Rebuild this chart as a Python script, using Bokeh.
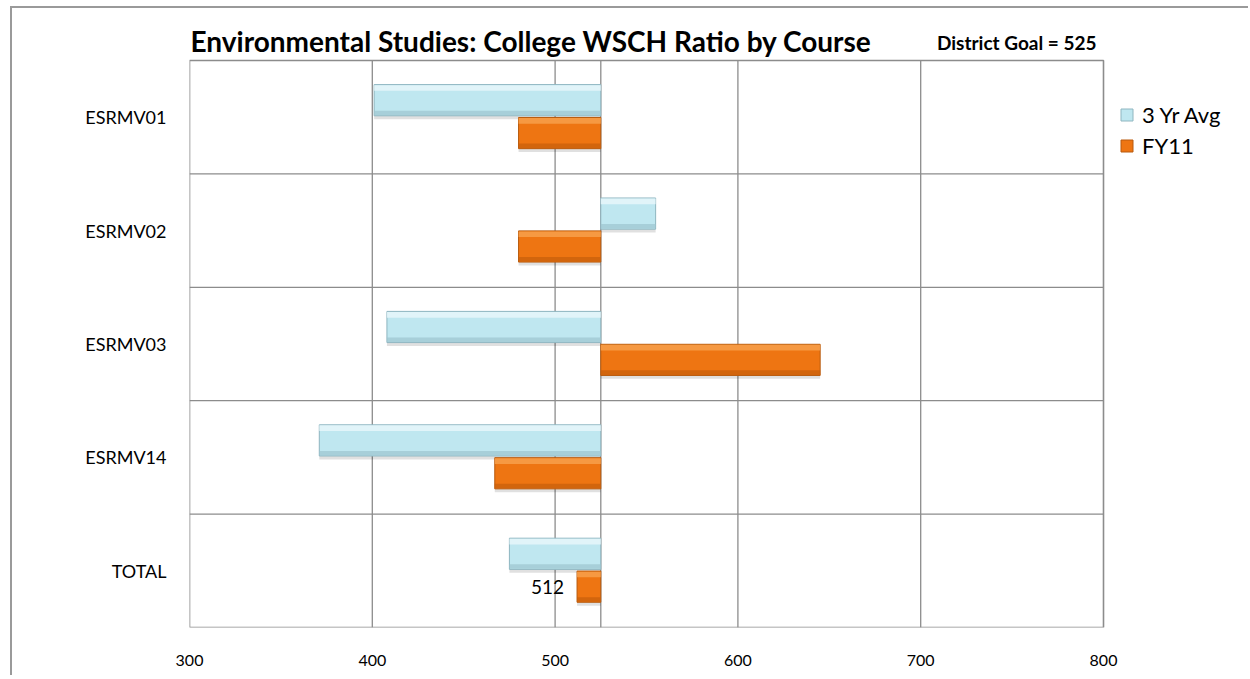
from bokeh.plotting import figure
from bokeh.models import (ColumnDataSource, Legend, LegendItem, FixedTicker,
                          Range1d, Label)
from bokeh.transform import dodge
from bokeh.core.properties import value
from bokeh.embed import file_html
from bokeh.resources import INLINE

# ---------------- data ----------------
courses = ["ESRMV01", "ESRMV02", "ESRMV03", "ESRMV14", "TOTAL"]
avg3yr = [401, 555, 408, 371, 475]
fy11 = [480, 480, 645, 467, 512]
GOAL = 525
x_ticks = [300, 400, 500, 600, 700, 800]
title_text = "Environmental Studies: College WSCH Ratio by Course"
goal_text = "District Goal = 525"
series_names = ["3 Yr Avg", "FY11"]

# ---------------- layout ----------------
FONT = "Lato"
GRID = "#8c8c8c"
W, HGT = 1248, 675
BORDER_L, BORDER_B = 189, 48
PLOT_TOP, PLOT_RIGHT = 60, 1103          # pixel edges of the plotting box
n = len(courses)
frame_h = HGT - BORDER_B
plot_h = frame_h - PLOT_TOP
ppu = plot_h / n                            # pixels per category
y_end = n * frame_h / plot_h
frame_w = W - BORDER_L
plot_w = PLOT_RIGHT - BORDER_L
x0, x1 = x_ticks[0], x_ticks[-1]
x_end = x0 + (x1 - x0) * frame_w / plot_w

ypos = [n - i - 0.5 for i in range(n)]
src = ColumnDataSource(dict(y=ypos, course=courses, avg=avg3yr, fy=fy11,
                            goal=[GOAL] * n))
total_src = ColumnDataSource(dict(y=[ypos[-1]], fy=[fy11[-1]],
                                  label=[str(fy11[-1])]))

p = figure(width=W, height=HGT, x_range=Range1d(x0, x_end),
           y_range=Range1d(0, y_end), output_backend="svg",
           toolbar_location=None, min_border_left=BORDER_L, min_border_top=0,
           min_border_right=0, min_border_bottom=BORDER_B)

p.background_fill_alpha = 0
p.border_fill_alpha = 0
p.outline_line_color = None
p.styles = {
    "background": "linear-gradient(#9a9a9a,#9a9a9a) 10px 6px / 2px 100% no-repeat, "
                  "linear-gradient(#9a9a9a,#9a9a9a) 10px 6px / 100% 2px no-repeat, white"
}
p.xgrid.grid_line_color = None
p.ygrid.grid_line_color = None

# plotting-box grid lines
inner_x = x_ticks[1:-1]
p.segment(x0=inner_x, y0=[0] * len(inner_x), x1=inner_x, y1=[n] * len(inner_x),
          line_color=GRID, line_width=1.3)
bounds = list(range(1, n))
p.segment(x0=[x0] * len(bounds), y0=bounds, x1=[x1] * len(bounds), y1=bounds,
          line_color=GRID, line_width=1.3)
p.segment(x0=[GOAL], y0=[0], x1=[GOAL], y1=[n], line_color=GRID, line_width=1.3)

H = 0.275
OFF_A = 0.15
OFF_F = -0.14


def bevel_bar(field, off, fill, line, light, dark):
    p.hbar(y=dodge("y", off - 0.03), left="goal", right=field, height=H,
           source=src, fill_color="#000000", fill_alpha=0.12, line_color=None)
    r = p.hbar(y=dodge("y", off), left="goal", right=field, height=H,
               source=src, fill_color=fill, line_color=line, line_width=1)
    p.hbar(y=dodge("y", off + H / 2 - 0.03), left="goal", right=field,
           height=0.05, source=src, fill_color=light, fill_alpha=0.8,
           line_color=None)
    p.hbar(y=dodge("y", off - H / 2 + 0.025), left="goal", right=field,
           height=0.04, source=src, fill_color=dark, fill_alpha=0.7,
           line_color=None)
    return r


r_avg = bevel_bar("avg", OFF_A, "#BFE7F0", "#8FB6C0", "#EAF8FB", "#9CC4CE")
r_fy = bevel_bar("fy", OFF_F, "#EE7512", "#B85B0E", "#F8A24F", "#C65E0C")

# plotting-box outline
p.quad(left=[x0], right=[x1], bottom=[0], top=[n], fill_color=None,
       line_color=GRID, line_width=1.6)

# data label for TOTAL FY11
p.text(x="fy", y=dodge("y", OFF_F), text="label", source=total_src,
       text_align="right", text_baseline="middle", x_offset=-13,
       text_font=value(FONT), text_font_size="19px", text_color="#000000")

# axes
p.xaxis.ticker = FixedTicker(ticks=x_ticks)
p.xaxis.axis_line_color = None
p.xaxis.major_tick_line_color = None
p.xaxis.minor_tick_line_color = None
p.xaxis.major_label_standoff = 21
p.xaxis.major_label_text_font = FONT
p.xaxis.major_label_text_font_size = "16px"
p.xaxis.major_label_text_color = "#000000"

p.yaxis.ticker = FixedTicker(ticks=ypos)
p.yaxis.major_label_overrides = {yv: c for yv, c in zip(ypos, courses)}
p.yaxis.axis_line_color = None
p.yaxis.major_tick_line_color = None
p.yaxis.minor_tick_line_color = None
p.yaxis.major_label_standoff = 17
p.yaxis.major_label_text_font = FONT
p.yaxis.major_label_text_font_size = "18px"
p.yaxis.major_label_text_color = "#000000"

# titles
p.add_layout(Label(x=x0, y=n + (PLOT_TOP - 40) / ppu, text=title_text,
                   text_align="left", x_offset=1, text_baseline="middle",
                   text_font=FONT, text_font_size="28px",
                   text_font_style="bold", text_color="#000000"))
p.add_layout(Label(x=x1, y=n + (PLOT_TOP - 42) / ppu, text=goal_text,
                   text_align="right", x_offset=-7, text_baseline="middle",
                   text_font=FONT, text_font_size="19px",
                   text_font_style="bold", text_color="#000000"))

legend = Legend(items=[LegendItem(label=series_names[0], renderers=[r_avg]),
                       LegendItem(label=series_names[1], renderers=[r_fy])],
                location=(PLOT_RIGHT + 16 - BORDER_L, frame_h - 159),
                orientation="vertical",
                label_text_font=FONT, label_text_font_size="22px",
                label_text_color="#000000",
                glyph_width=15, glyph_height=15, label_height=26,
                spacing=4, padding=0, margin=0, label_standoff=8,
                border_line_color=None, background_fill_alpha=0)
p.add_layout(legend)

open("out.html", "w").write(file_html(p, INLINE))
